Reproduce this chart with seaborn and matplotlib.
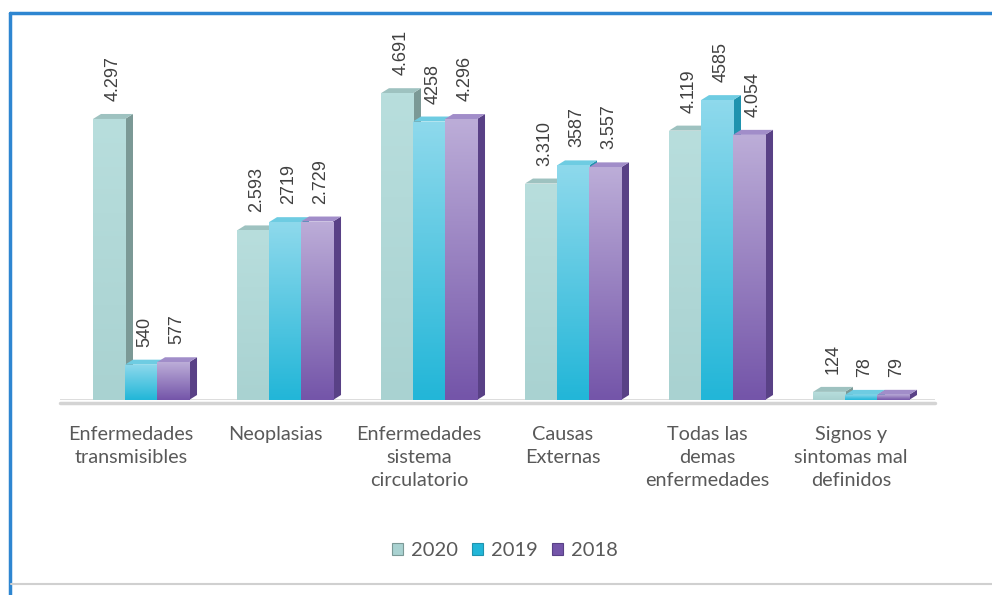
import numpy as np
import pandas as pd
import seaborn as sns
import matplotlib
matplotlib.use("Agg")
import matplotlib.pyplot as plt
from matplotlib.patches import Polygon, Rectangle
from matplotlib.colors import LinearSegmentedColormap
from matplotlib.transforms import ScaledTranslation

categories = ["Enfermedades\ntransmisibles", "Neoplasias", "Enfermedades\nsistema\ncirculatorio",
              "Causas\nExternas", "Todas las\ndemas\nenfermedades", "Signos y\nsintomas mal\ndefinidos"]
series = ["2020", "2019", "2018"]
v2020 = [4297, 2593, 4691, 3310, 4119, 124]
v2019 = [540, 2719, 4258, 3587, 4585, 78]
v2018 = [577, 2729, 4296, 3557, 4054, 79]
l2020 = ["4.297", "2.593", "4.691", "3.310", "4.119", "124"]
l2019 = ["540", "2719", "4258", "3587", "4585", "78"]
l2018 = ["577", "2.729", "4.296", "3.557", "4.054", "79"]

# style: (front top, front bottom, side, top)
styles = {
    "2020": ("#B8DEDD", "#A9D2D1", "#7B9996", "#9EC2C0"),
    "2019": ("#8ED9EC", "#22B6D8", "#1F93AE", "#6ECCE2"),
    "2018": ("#BCADD8", "#7455A9", "#594186", "#A18DC9"),
}

sns.set_theme(style="white")
plt.rcParams["font.family"] = ["Lato", "DejaVu Sans"]

df = pd.DataFrame({
    "cat": np.repeat(categories, 3),
    "year": series * len(categories),
    "val": np.ravel(np.column_stack([v2020, v2019, v2018])),
})

fig = plt.figure(figsize=(9.92, 5.95), dpi=100)
ax = fig.add_axes([60 / 992, 195 / 595, 875 / 992, 327 / 595])
sns.barplot(data=df, x="cat", y="val", hue="year", hue_order=series, order=categories,
            palette=[styles[s][1] for s in series], width=0.667, ax=ax,
            legend=False, errorbar=None, saturation=1)

ax.set_xlim(-0.5625, 5.514)
ax.set_ylim(0, 5000)
fig.canvas.draw()

# pixel-based depth offsets converted to data units
bb = ax.get_window_extent()
xr = ax.get_xlim()[1] - ax.get_xlim()[0]
yr = ax.get_ylim()[1] - ax.get_ylim()[0]
dxp, dyp = 8, 5
dx = dxp * xr / bb.width
dy = dyp * yr / bb.height

labels_by_series = {"2020": l2020, "2019": l2019, "2018": l2018}
for si, (container, s) in enumerate(zip(ax.containers, series)):
    ftop, fbot, side, topc = styles[s]
    cmap = LinearSegmentedColormap.from_list("g" + s, [fbot, ftop])
    for ci, patch in enumerate(container.patches):
        x0 = patch.get_x()
        w = patch.get_width()
        h = patch.get_height()
        x1 = x0 + w
        z = 2 + ci * 10 + si * 2
        patch.set_zorder(z)
        patch.set_edgecolor("none")
        grad = np.linspace(0, 1, 100).reshape(-1, 1)
        im = ax.imshow(grad, extent=[x0, x1, 0, h], origin="lower", aspect="auto",
                       cmap=cmap, zorder=z + 0.1, interpolation="bicubic")
        im.set_clip_path(patch)
        ax.add_patch(Polygon([[x1, 0], [x1, h], [x1 + dx, h + dy], [x1 + dx, dy]],
                             closed=True, facecolor=side, edgecolor="none", zorder=z - 0.5))
        ax.add_patch(Polygon([[x0, h], [x1, h], [x1 + dx, h + dy], [x0 + dx, h + dy]],
                             closed=True, facecolor=topc, edgecolor="none", zorder=z - 0.5))
        ax.text(x0 + w / 2 + dx / 2, h + dy + 13 * yr / bb.height, labels_by_series[s][ci],
                rotation=90, ha="center", va="bottom", fontsize=13, color="#404040",
                family=["Liberation Sans", "DejaVu Sans"], zorder=100)
ax.set_xlim(-0.5625, 5.514)
ax.set_ylim(0, 5000)

# floor line
ax.axhline(-50, color="#D4D4D4", lw=2.5, zorder=1, clip_on=False)
ax.axhline(0, color="#BDBDBD", lw=1.2, zorder=1, alpha=0.6)

for sp in ax.spines.values():
    sp.set_visible(False)
ax.set_yticks([])
ax.set_xlabel("")
ax.set_ylabel("")
ax.set_xticks(range(len(categories)), categories, linespacing=1.4, va="top",
              fontsize=14.3, color="#595959")
ax.tick_params(axis="x", length=0, pad=19)
offset = ScaledTranslation(-0.1, 0, fig.dpi_scale_trans)
for lab in ax.get_xticklabels():
    lab.set_transform(lab.get_transform() + offset)

# legend
handles = [Rectangle((0, 0), 1, 1, facecolor=styles[s][1], edgecolor=styles[s][2], lw=0.8) for s in series]
fig.legend(handles, series, loc="center", bbox_to_anchor=(505 / 992, 1 - 551 / 595), ncol=3,
           frameon=False, fontsize=14.5, handlelength=0.55, handleheight=0.55,
           handletextpad=0.4, columnspacing=0.7, labelcolor="#595959")

# frame lines (blue border left/top, gray bottom)
fig.add_artist(plt.Line2D([10 / 992, 10 / 992], [0, 1 - 13 / 595], color="#2E86D1", lw=2.5))
fig.add_artist(plt.Line2D([10 / 992, 1], [1 - 13 / 595, 1 - 13 / 595], color="#2E86D1", lw=2.5))
fig.add_artist(plt.Line2D([11 / 992, 1], [1 - 584 / 595, 1 - 584 / 595], color="#D0D0D0", lw=1.5))

fig.savefig("out.png", dpi=100)
